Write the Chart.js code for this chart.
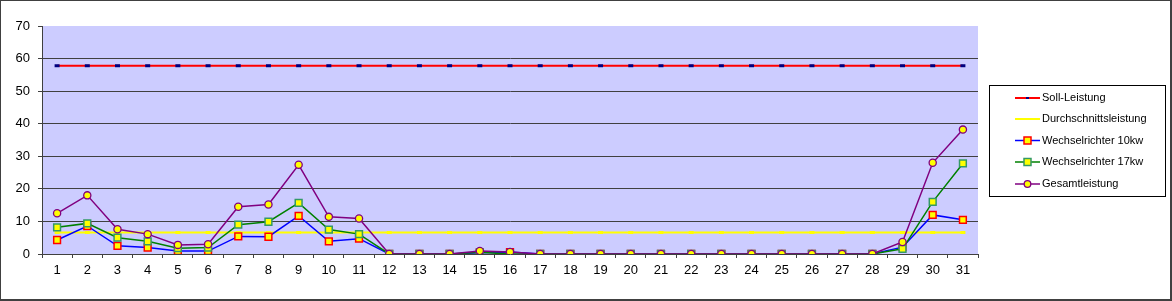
<!DOCTYPE html>
<html>
<head>
<meta charset="utf-8">
<script src="https://cdn.jsdelivr.net/npm/chart.js@4"></script>
<style>
  body { margin: 0; background: #fff; }
  canvas { display: block; }
</style>
</head>
<body>
<canvas id="leistungChart" width="1172" height="301"></canvas>
<script>
var days = ["1","2","3","4","5","6","7","8","9","10","11","12","13","14","15","16","17","18","19","20","21","22","23","24","25","26","27","28","29","30","31"];

var sollLeistung = [57.8,57.8,57.8,57.8,57.8,57.8,57.8,57.8,57.8,57.8,57.8,57.8,57.8,57.8,57.8,57.8,57.8,57.8,57.8,57.8,57.8,57.8,57.8,57.8,57.8,57.8,57.8,57.8,57.8,57.8,57.8];
var durchschnitt = [6.6,6.6,6.6,6.6,6.6,6.6,6.6,6.6,6.6,6.6,6.6,6.6,6.6,6.6,6.6,6.6,6.6,6.6,6.6,6.6,6.6,6.6,6.6,6.6,6.6,6.6,6.6,6.6,6.6,6.6,6.6];
var wr10kw = [4.3,8.6,2.5,2.0,0.9,0.9,5.4,5.3,11.7,3.9,4.7,0,0,0,0.4,0.6,0,0,0,0,0,0,0,0,0,0,0,0,2.1,12.0,10.5];
var wr17kw = [8.2,9.4,5.0,3.9,1.8,2.0,9.0,9.9,15.7,7.5,6.1,0,0,0,0.5,0,0,0,0,0,0,0,0,0,0,0,0,0,1.6,16.0,27.8];
var gesamt = [12.5,18.0,7.6,6.1,2.8,3.0,14.5,15.2,27.4,11.4,10.9,0,0,0,0.9,0.6,0,0,0,0,0,0,0,0,0,0,0,0,3.7,28.0,38.2];
var yTicks = [0,10,20,30,40,50,60,70];

var FONT = "'Liberation Sans', Arial, sans-serif";

// plot background + frame + legend box
var excelLook = {
  id: "excelLook",
  beforeDraw: function (chart) {
    var c = chart.ctx, a = chart.chartArea;
    c.save();
    c.fillStyle = "#CCCCFF";
    c.fillRect(a.left, a.top, a.right - a.left, a.bottom - a.top);
    c.restore();
  },
  afterDraw: function (chart) {
    var c = chart.ctx;
    c.save();
    // outer frame
    c.fillStyle = "#404040";
    c.fillRect(0, 0, 1172, 1);
    c.fillRect(0, 0, 1, 301);
    c.fillRect(1170, 0, 2, 301);
    c.fillRect(0, 299, 1172, 2);

    // legend
    c.fillStyle = "#fff";
    c.fillRect(989, 85, 176, 111);
    c.strokeStyle = "#000";
    c.lineWidth = 1;
    c.strokeRect(989.5, 85.5, 176, 111);

    var rows = [98, 119, 140.5, 162, 184];
    chart.data.datasets.forEach(function (ds, i) {
      var y = rows[i];
      c.strokeStyle = ds.borderColor;
      c.lineWidth = ds.borderWidth;
      c.beginPath();
      c.moveTo(1015, y);
      c.lineTo(1040, y);
      c.stroke();
      if (ds.legendMarker) {
        c.fillStyle = ds.pointBackgroundColor;
        c.strokeStyle = ds.pointBorderColor;
        c.lineWidth = ds.pointBorderWidth;
        if (ds.pointStyle === "circle") {
          c.beginPath();
          c.arc(1027.5, y, 3.3, 0, Math.PI * 2);
          c.fill();
          c.stroke();
        } else if (ds.pointStyle === "rect") {
          c.fillRect(1024, y - 3.5, 7, 7);
          c.strokeRect(1024, y - 3.5, 7, 7);
        } else {
          c.fillStyle = ds.pointBorderColor;
          c.fillRect(1026, y - 1, 3, 2);
        }
      }
      c.fillStyle = "#000";
      c.font = "11px " + FONT;
      c.textBaseline = "middle";
      c.textAlign = "left";
      c.fillText(ds.label, 1042, y);
    });
    c.restore();
  }
};

var ctx = document.getElementById("leistungChart");

var myChart = new Chart(ctx, {
  type: "line",
  data: {
    labels: days,
    datasets: [
      {
        label: "Soll-Leistung",
        data: sollLeistung,
        borderColor: "#FF0000",
        borderWidth: 2,
        pointStyle: "line",
        pointRadius: 2.5,
        pointBorderColor: "#000080",
        pointBackgroundColor: "#000080",
        pointBorderWidth: 3,
        legendMarker: true,
        order: 5
      },
      {
        label: "Durchschnittsleistung",
        data: durchschnitt,
        borderColor: "#FFFF00",
        borderWidth: 2,
        pointStyle: "line",
        pointRadius: 2.5,
        pointBorderColor: "#FFFF00",
        pointBackgroundColor: "#FFFF00",
        pointBorderWidth: 3,
        legendMarker: false,
        order: 4
      },
      {
        label: "Wechselrichter 10kw",
        data: wr10kw,
        borderColor: "#0000FF",
        borderWidth: 1.5,
        pointStyle: "rect",
        pointRadius: 4.8,
        pointBorderColor: "#FF0000",
        pointBackgroundColor: "#FFFF00",
        pointBorderWidth: 1.5,
        legendMarker: true,
        order: 3
      },
      {
        label: "Wechselrichter 17kw",
        data: wr17kw,
        borderColor: "#008000",
        borderWidth: 1.5,
        pointStyle: "rect",
        pointRadius: 4.8,
        pointBorderColor: "#339966",
        pointBackgroundColor: "#FFFF00",
        pointBorderWidth: 1.5,
        legendMarker: true,
        order: 2
      },
      {
        label: "Gesamtleistung",
        data: gesamt,
        borderColor: "#800080",
        borderWidth: 1.5,
        pointStyle: "circle",
        pointRadius: 3.6,
        pointBorderColor: "#800080",
        pointBackgroundColor: "#FFFF00",
        pointBorderWidth: 1.3,
        legendMarker: true,
        order: 1
      }
    ]
  },
  options: {
    responsive: false,
    animation: false,
    devicePixelRatio: 1,
    layout: { padding: { top: 26, right: 194, left: 0, bottom: 0 } },
    elements: { line: { tension: 0 } },
    plugins: {
      legend: { display: false },
      tooltip: { enabled: false }
    },
    scales: {
      x: {
        offset: true,
        afterFit: function (scale) { scale.height = 47; },
        grid: {
          offset: true,
          drawOnChartArea: false,
          drawTicks: true,
          tickLength: 4,
          color: "#404040"
        },
        border: { color: "#404040", width: 1 },
        ticks: {
          color: "#000",
          padding: 5,
          maxRotation: 0,
          autoSkip: false,
          font: { family: FONT, size: 13 }
        }
      },
      y: {
        min: 0,
        max: 70,
        afterFit: function (scale) { scale.width = 42; },
        afterBuildTicks: function (scale) {
          scale.ticks = yTicks.map(function (v) { return { value: v }; });
        },
        grid: {
          color: function (c) {
            return (c.tick && (c.tick.value === 70 || c.tick.value === 0)) ? "rgba(0,0,0,0)" : "#404040";
          },
          tickColor: "#404040",
          tickLength: 4
        },
        border: { color: "#404040", width: 1 },
        ticks: {
          color: "#000",
          padding: 8,
          font: { family: FONT, size: 13 }
        }
      }
    }
  },
  plugins: [excelLook]
});
</script>
</body>
</html>
